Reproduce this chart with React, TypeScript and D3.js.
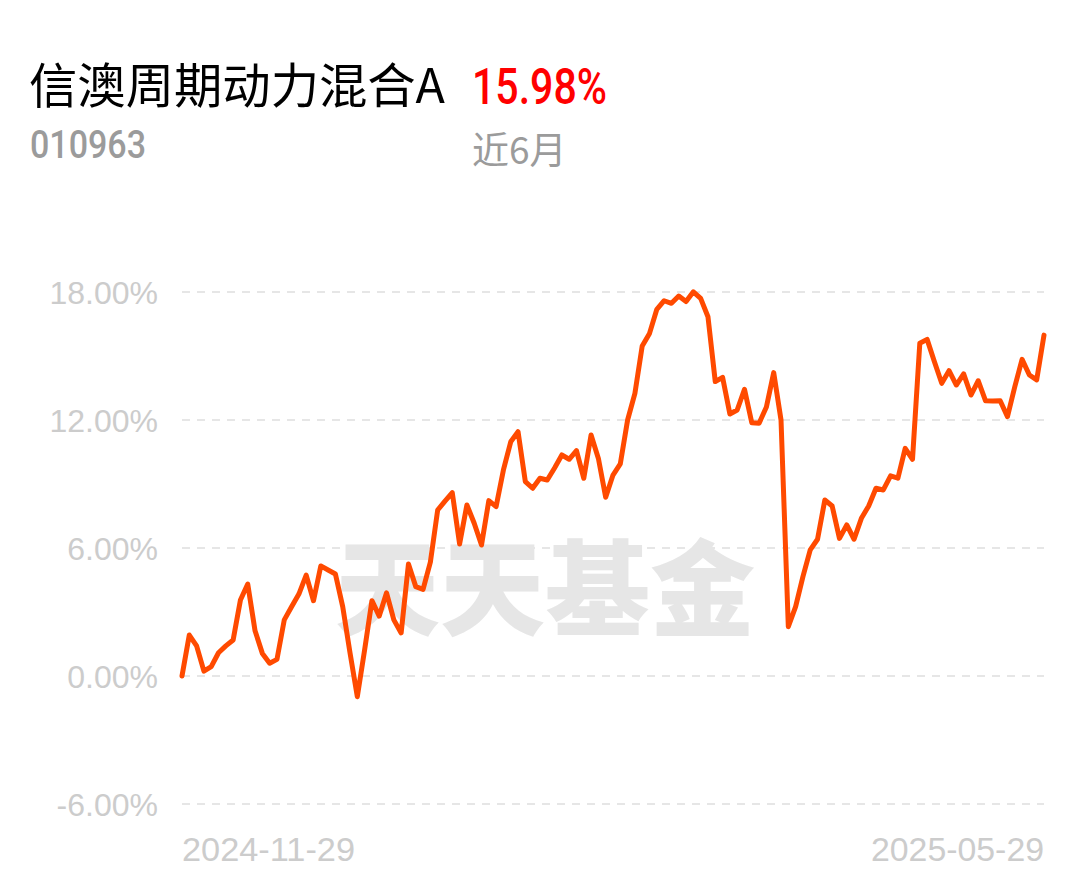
import React from "react";
import * as d3 from "d3";

const fundName = "信澳周期动力混合A";
const fundCode = "010963";
const periodReturn = "15.98%";
const periodLabel = "近6月";
const startDate = "2024-11-29";
const endDate = "2025-05-29";
const yTicks = [-6, 0, 6, 12, 18];
const watermark = "天天基金";

const returns = [
  0, 1.92, 1.41, 0.23, 0.44, 1.09, 1.41, 1.69, 3.56, 4.31,
  2.12, 1.06, 0.6, 0.78, 2.63, 3.25, 3.84, 4.73, 3.53, 5.16,
  4.97, 4.78, 3.25, 1.08, -0.97, 1.22, 3.53, 2.81, 3.9, 2.63,
  2.02, 5.25, 4.19, 4.06, 5.34, 7.78, 8.2, 8.59, 6.19, 8.02,
  7.16, 6.14, 8.22, 7.94, 9.66, 10.98, 11.45, 9.11, 8.8, 9.27,
  9.19, 9.75, 10.36, 10.16, 10.56, 9.27, 11.3, 10.2, 8.38, 9.42,
  9.94, 12.0, 13.25, 15.47, 16.06, 17.19, 17.59, 17.47, 17.81, 17.55,
  18.01, 17.7, 16.84, 13.8, 14.0, 12.28, 12.47, 13.44, 11.87, 11.85,
  12.61, 14.22, 12.0, 2.31, 3.25, 4.66, 5.91, 6.41, 8.25, 7.97,
  6.45, 7.08, 6.41, 7.39, 7.97, 8.8, 8.72, 9.38, 9.27, 10.67,
  10.16, 15.6, 15.78, 14.73, 13.72, 14.31, 13.64, 14.16, 13.17, 13.84,
  12.9, 12.89, 12.9, 12.16, 13.56, 14.84, 14.11, 13.88, 15.98,
];

export default function App() {
  const W = 1089;
  const H = 881;
  const left = 182;
  const right = 1044;
  const x = d3.scaleLinear().domain([0, returns.length - 1]).range([left, right]);
  const y = d3.scaleLinear().domain([-6, 18]).range([804, 292]);
  const line = d3
    .line<number>()
    .x((_, i) => x(i))
    .y((d) => y(d));

  return (
    <svg
      width={W}
      height={H}
      style={{ position: "absolute", left: 0, top: 0, background: "#fff" }}
    >
      <text
        x={29}
        y={103}
        fontFamily="'Noto Sans CJK SC', sans-serif"
        fontSize={48}
        fill="#000"
        textLength={416}
        lengthAdjust="spacingAndGlyphs"
      >
        {fundName}
      </text>
      <text
        x={472}
        y={104}
        fontFamily="Roboto, sans-serif"
        fontSize={50}
        fontWeight={500}
        fill="#ff0000"
        textLength={135}
        lengthAdjust="spacingAndGlyphs"
      >
        {periodReturn}
      </text>
      <text
        x={30}
        y={158}
        fontFamily="Roboto, sans-serif"
        fontSize={38}
        fontWeight={500}
        fill="#9b9b9b"
        textLength={116}
        lengthAdjust="spacingAndGlyphs"
      >
        {fundCode}
      </text>
      <text
        x={472}
        y={164}
        fontFamily="'Noto Sans CJK SC', sans-serif"
        fontSize={37}
        fill="#9b9b9b"
      >
        {periodLabel}
      </text>

      <text
        x={545}
        y={628}
        textAnchor="middle"
        fontFamily="'Noto Sans CJK SC', sans-serif"
        fontWeight={900}
        fontSize={104}
        fill="#e6e6e6"
        textLength={420}
        lengthAdjust="spacingAndGlyphs"
      >
        {watermark}
      </text>

      {yTicks.map((t) => (
        <g key={t}>
          <line
            x1={left}
            x2={right}
            y1={y(t)}
            y2={y(t)}
            stroke="#e6e6e6"
            strokeWidth={2}
            strokeDasharray="8 7"
          />
          <text
            x={158}
            y={y(t) + 12}
            textAnchor="end"
            fontFamily="'Liberation Sans', Arial, sans-serif"
            fontSize={32}
            fill="#cccccc"
          >
            {t.toFixed(2) + "%"}
          </text>
        </g>
      ))}

      <path
        d={line(returns) || ""}
        fill="none"
        stroke="#ff4a00"
        strokeWidth={5}
        strokeLinejoin="round"
        strokeLinecap="round"
      />

      <text
        x={left}
        y={861}
        fontFamily="'Liberation Sans', sans-serif"
        fontSize={34}
        fill="#cccccc"
        textLength={173}
        lengthAdjust="spacingAndGlyphs"
      >
        {startDate}
      </text>
      <text
        x={right - 173}
        y={861}
        fontFamily="'Liberation Sans', sans-serif"
        fontSize={34}
        fill="#cccccc"
        textLength={173}
        lengthAdjust="spacingAndGlyphs"
      >
        {endDate}
      </text>
    </svg>
  );
}
